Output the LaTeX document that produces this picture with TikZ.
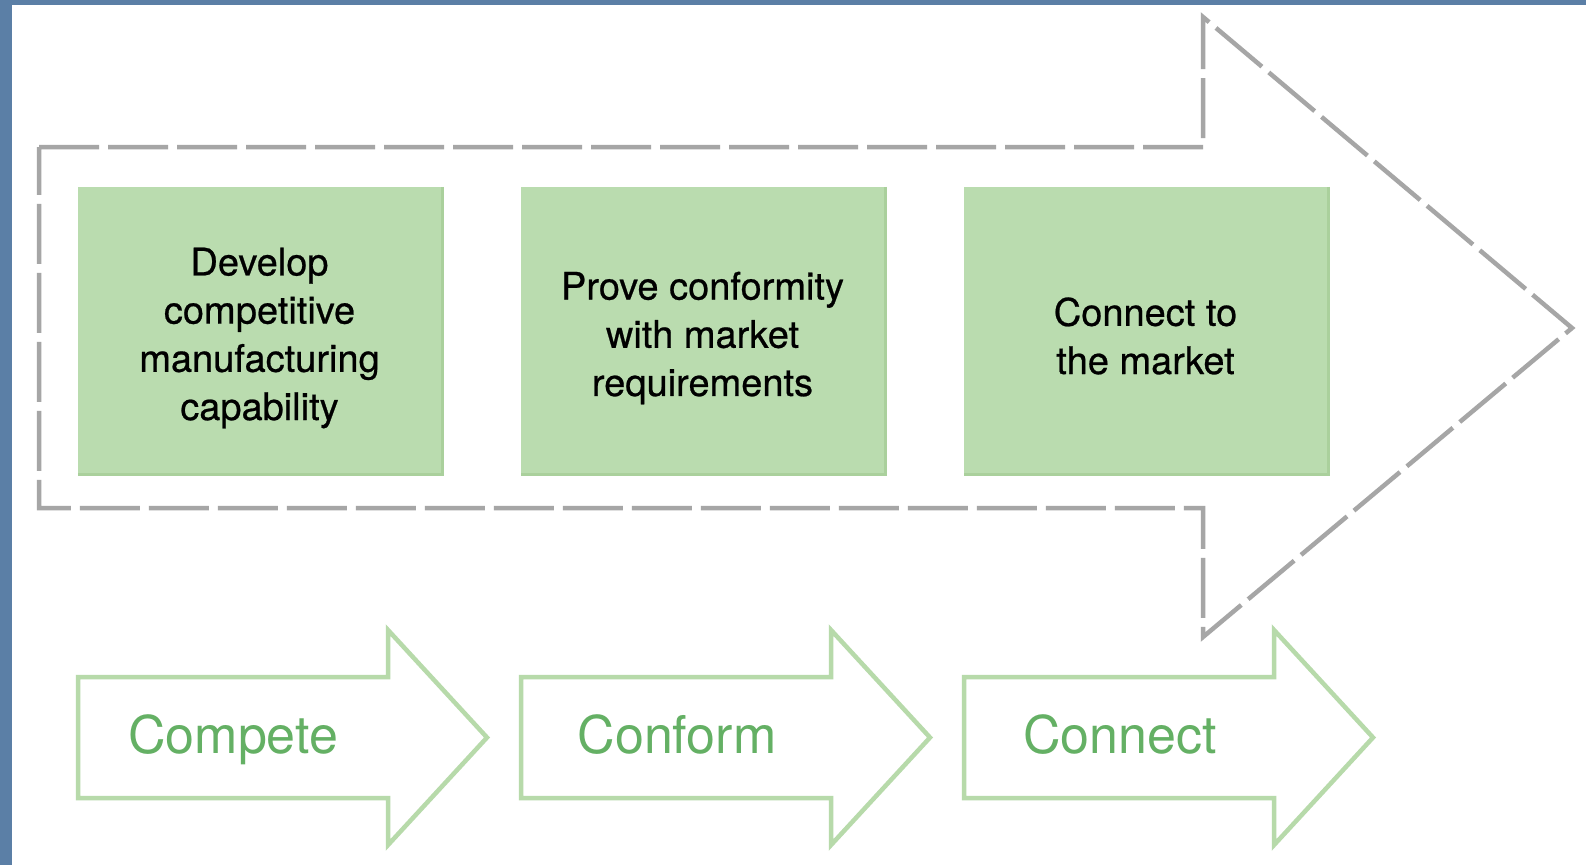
\documentclass[tikz,border=0pt]{standalone}
\usepackage{fontspec}
\setmainfont{TeX Gyre Heros}
\newfontfamily\boxfont[FakeBold=0.6]{TeX Gyre Heros}
\definecolor{framebl}{RGB}{91,127,166}
\definecolor{boxgreen}{RGB}{186,220,175}
\definecolor{boxedge}{RGB}{170,208,156}
\definecolor{dashgray}{RGB}{166,166,166}
\definecolor{arrgreen}{RGB}{183,218,170}
\definecolor{labgreen}{RGB}{100,176,100}
\tikzset{
  stepbox/.style={fill=boxgreen, draw=none, minimum width=363pt, minimum height=286pt, inner sep=0pt},
  boxtext/.style={align=center, text=black, font=\boxfont\fontsize{38}{48.2}\selectfont},
  bigdash/.style={draw=dashgray, line width=4.5pt, dash pattern=on 60pt off 9pt, line join=miter},
  flowarrow/.style={draw=arrgreen, line width=4.5pt, line join=miter},
  flowlabel/.style={anchor=base, text=labgreen, font=\fontsize{52}{60}\selectfont},
}
\begin{document}
\begin{tikzpicture}[x=1pt,y=-1pt]
\useasboundingbox (0,0) rectangle (1586,865);
\fill[white] (0,0) rectangle (1586,865);
\fill[framebl] (0,0) rectangle (1586,5);
\fill[framebl] (0,0) rectangle (12,865);

% big dashed arrow
\draw[bigdash] (39,147) -- (1203,147) -- (1203,17) -- (1572,328) -- (1203,637) -- (1203,508) -- (39,508) -- cycle;

% green boxes
\node[stepbox] (b1) at (259.5,330) {};
\node[stepbox] (b2) at (702.5,330) {};
\node[stepbox] (b3) at (1145.5,330) {};
\foreach \b in {b1,b2,b3}{
  \draw[boxedge, line width=3pt] ([xshift=1.5pt]\b.north east) -- ([xshift=1.5pt,yshift=-1.5pt]\b.south east) -- ([yshift=-1.5pt]\b.south west);
}
\node[boxtext] (t1) at (259.5,338) {Develop\\competitive\\manufacturing\\capability};
\node[boxtext] (t2) at (702.5,338) {Prove conformity\\with market\\requirements};
\node[boxtext] (t3) at (1145.5,336) {Connect to\\the market};

% bottom arrows
\draw[flowarrow] (78,677) -- (388,677) -- (388,630) -- (487,737.5) -- (388,845) -- (388,798) -- (78,798) -- cycle;
\draw[flowarrow] (521,677) -- (831,677) -- (831,630) -- (930,737.5) -- (831,845) -- (831,798) -- (521,798) -- cycle;
\draw[flowarrow] (964,677) -- (1274,677) -- (1274,630) -- (1373,737.5) -- (1274,845) -- (1274,798) -- (964,798) -- cycle;
\node[flowlabel] (l1) at (233,753) {Compete};
\node[flowlabel] (l2) at (677,753) {Conform};
\node[flowlabel] (l3) at (1120,753) {Connect};
\end{tikzpicture}
\end{document}
